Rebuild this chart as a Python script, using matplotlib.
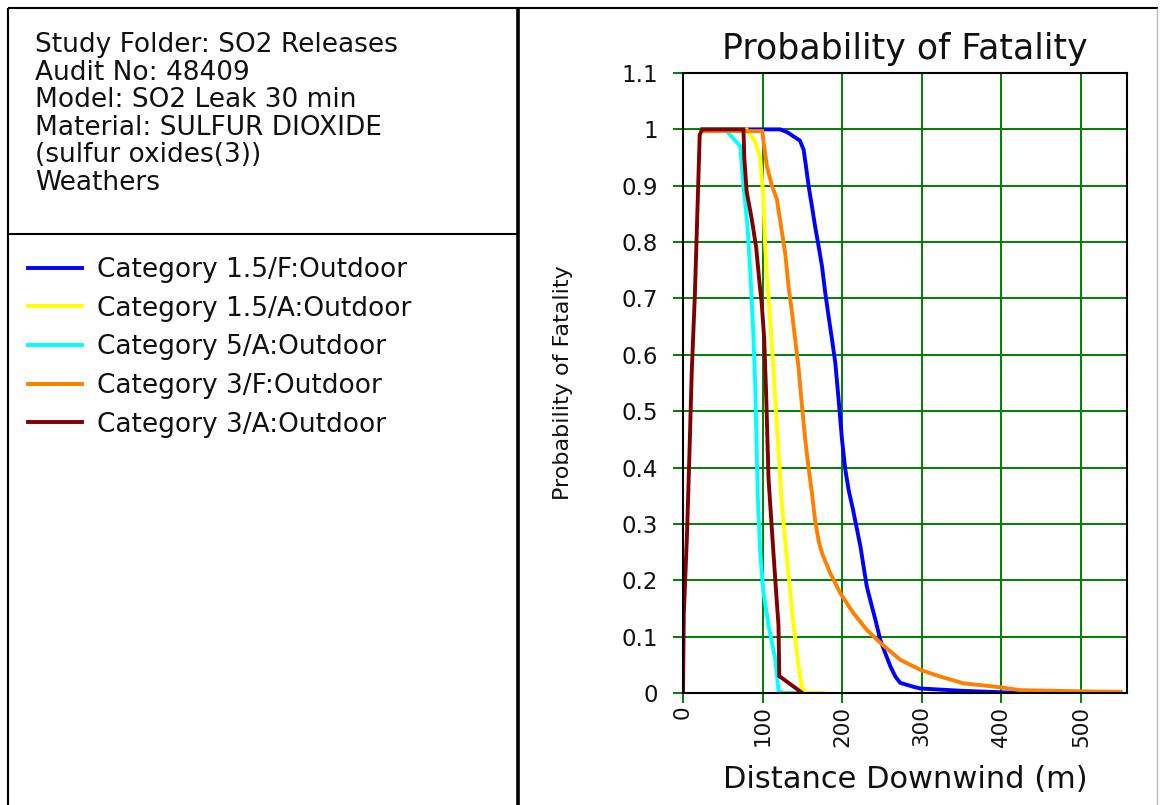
import matplotlib
matplotlib.use('Agg')
import matplotlib.pyplot as plt
from matplotlib.lines import Line2D

plt.rcParams['font.family'] = ['DejaVu Sans']

# ---------------- data ----------------
info_lines = ["Study Folder: SO2 Releases", "Audit No: 48409", "Model: SO2 Leak 30 min",
              "Material: SULFUR DIOXIDE", "(sulfur oxides(3))", "Weathers"]

series_labels = ["Category 1.5/F:Outdoor", "Category 1.5/A:Outdoor", "Category 5/A:Outdoor",
                 "Category 3/F:Outdoor", "Category 3/A:Outdoor"]
series_colors = ["#0000FF", "#FFFF00", "#00FFFF", "#FF8000", "#800000"]

x_15F = [24, 80, 122, 131, 147, 151.6, 154.5, 157.8, 162, 166, 170.4, 174.7, 178.8, 183, 187.3,
         191.4, 195.6, 199.8, 204, 208.2, 213.7, 218.7, 223, 227, 231, 236.4, 241.8, 248, 254.4,
         260.7, 267, 273, 289.7, 298.5, 323.7, 349, 424]
y_15F = [1.0, 1.0, 1.0, 0.995, 0.98, 0.964, 0.935, 0.9, 0.864, 0.828, 0.793, 0.757, 0.71, 0.668,
         0.627, 0.586, 0.52, 0.45, 0.396, 0.36, 0.325, 0.29, 0.26, 0.224, 0.189, 0.159, 0.13, 0.094,
         0.07, 0.047, 0.029, 0.018, 0.011, 0.008, 0.006, 0.004, 0.0]

x_15A = [24, 80, 90, 97, 101, 103, 106, 109.6, 113, 116, 120, 124, 129.7, 134.8, 139, 145, 149.5,
         155, 177]
y_15A = [1.0, 1.0, 0.98, 0.95, 0.88, 0.8, 0.73, 0.66, 0.59, 0.52, 0.43, 0.34, 0.25, 0.18, 0.12,
         0.05, 0.01, 0.0, 0.0]

x_5A = [24, 53, 72, 76, 81, 84.4, 88, 90.7, 92, 94, 97, 101, 107.5, 116, 120, 125, 143]
y_5A = [1.0, 1.0, 0.97, 0.9, 0.83, 0.75, 0.65, 0.55, 0.47, 0.35, 0.25, 0.18, 0.12, 0.06, 0.005,
        0.0, 0.0]

x_3F = [24, 99.6, 101, 105.4, 111.7, 118, 123, 128.5, 132.7, 137, 141, 145, 149.5, 153.6, 157.8,
        162, 166, 170.4, 174.7, 185, 197.7, 214, 231, 248, 273, 298.5, 323.7, 353, 374, 399, 424,
        500, 550]
y_3F = [0.997, 0.997, 0.98, 0.935, 0.9, 0.876, 0.83, 0.78, 0.72, 0.675, 0.627, 0.58, 0.51, 0.45,
        0.40, 0.355, 0.307, 0.27, 0.248, 0.213, 0.177, 0.142, 0.112, 0.089, 0.059, 0.041, 0.029,
        0.017, 0.014, 0.01, 0.005, 0.003, 0.002]

x_3A = [0, 1, 5, 8, 11, 15, 18, 21, 24, 76, 77, 80, 86.5, 92, 96, 99, 102, 104.5, 107.5, 111.7,
        116, 120, 121, 150]
y_3A = [0.0, 0.14, 0.28, 0.42, 0.57, 0.71, 0.85, 0.99, 1.0, 1.0, 0.95, 0.89, 0.84, 0.79, 0.73,
        0.69, 0.63, 0.53, 0.38, 0.29, 0.2, 0.12, 0.03, 0.0]

series_x = [x_15F, x_15A, x_5A, x_3F, x_3A]
series_y = [y_15F, y_15A, y_5A, y_3F, y_3A]

x_ticks = [0, 100, 200, 300, 400, 500]
x_ticklabels = ["0", "100", "200", "300", "400", "500"]
y_ticks = [0, 0.1, 0.2, 0.3, 0.4, 0.5, 0.6, 0.7, 0.8, 0.9, 1.0, 1.1]
y_ticklabels = ["0", "0.1", "0.2", "0.3", "0.4", "0.5", "0.6", "0.7", "0.8", "0.9", "1", "1.1"]

# ---------------- figure ----------------
W, H = 1160, 805
fig = plt.figure(figsize=(W / 100, H / 100), dpi=100)


def fx(px):
    return px / W


def fy(py):
    return 1 - py / H


ax = fig.add_axes([fx(683), fy(693), fx(1127) - fx(683), fy(73) - fy(693)])

handles = []
for xs, ys, c, lab in zip(series_x, series_y, series_colors, series_labels):
    ln, = ax.plot(xs, ys, color=c, lw=2.8, label=lab, solid_joinstyle='miter')
    handles.append(ln)

ax.set_xlim(0, 558)
ax.set_ylim(0, 1.1)
ax.set_xticks(x_ticks)
ax.set_xticklabels(x_ticklabels)
ax.set_yticks(y_ticks)
ax.set_yticklabels(y_ticklabels)
ax.grid(True, color='#008000', lw=1.4)
for s in ax.spines.values():
    s.set_color('black')
    s.set_linewidth(1.5)
ax.tick_params(axis='both', color='#008000', length=7, width=1.4, labelcolor='#111111')
ax.tick_params(axis='x', labelrotation=90, pad=2, labelsize=15.5)
ax.tick_params(axis='y', pad=11, labelsize=16.5)

ax.set_title("Probability of Fatality", fontsize=25, pad=10, color='#111111')
ax.set_xlabel("Distance Downwind (m)", fontsize=22, labelpad=13, color='#111111')
ax.set_ylabel("Probability of Fatality", fontsize=16, color='#111111')
ax.yaxis.set_label_coords((573 - 683) / 444, 0.5)

# ---------------- left info panel ----------------
for i, t in enumerate(info_lines):
    fig.text(fx(35), fy(45 + 27.6 * i), t, fontsize=19, va='center', ha='left', color='#111111')

fig.legend(handles=handles, labels=series_labels, loc='upper left',
           bbox_to_anchor=(fx(28), fy(257)), frameon=False, fontsize=19,
           handlelength=2.05, handletextpad=0.57, labelspacing=0.48,
           borderaxespad=0, borderpad=0, labelcolor='#111111')

# ---------------- frame lines ----------------
def fline(x0, y0, x1, y1, lw=1.5, color='black'):
    fig.add_artist(Line2D([fx(x0), fx(x1)], [fy(y0), fy(y1)], transform=fig.transFigure,
                          color=color, lw=lw, solid_capstyle='butt'))


fline(8, 8, 1158, 8)
fline(8, 8, 8, 805)
fline(518, 8, 518, 805, lw=2.6)
fline(8, 234, 518, 234)
fline(1157, 8, 1157, 805, lw=1.0, color='#bbbbbb')

fig.savefig("out.png", dpi=100)
